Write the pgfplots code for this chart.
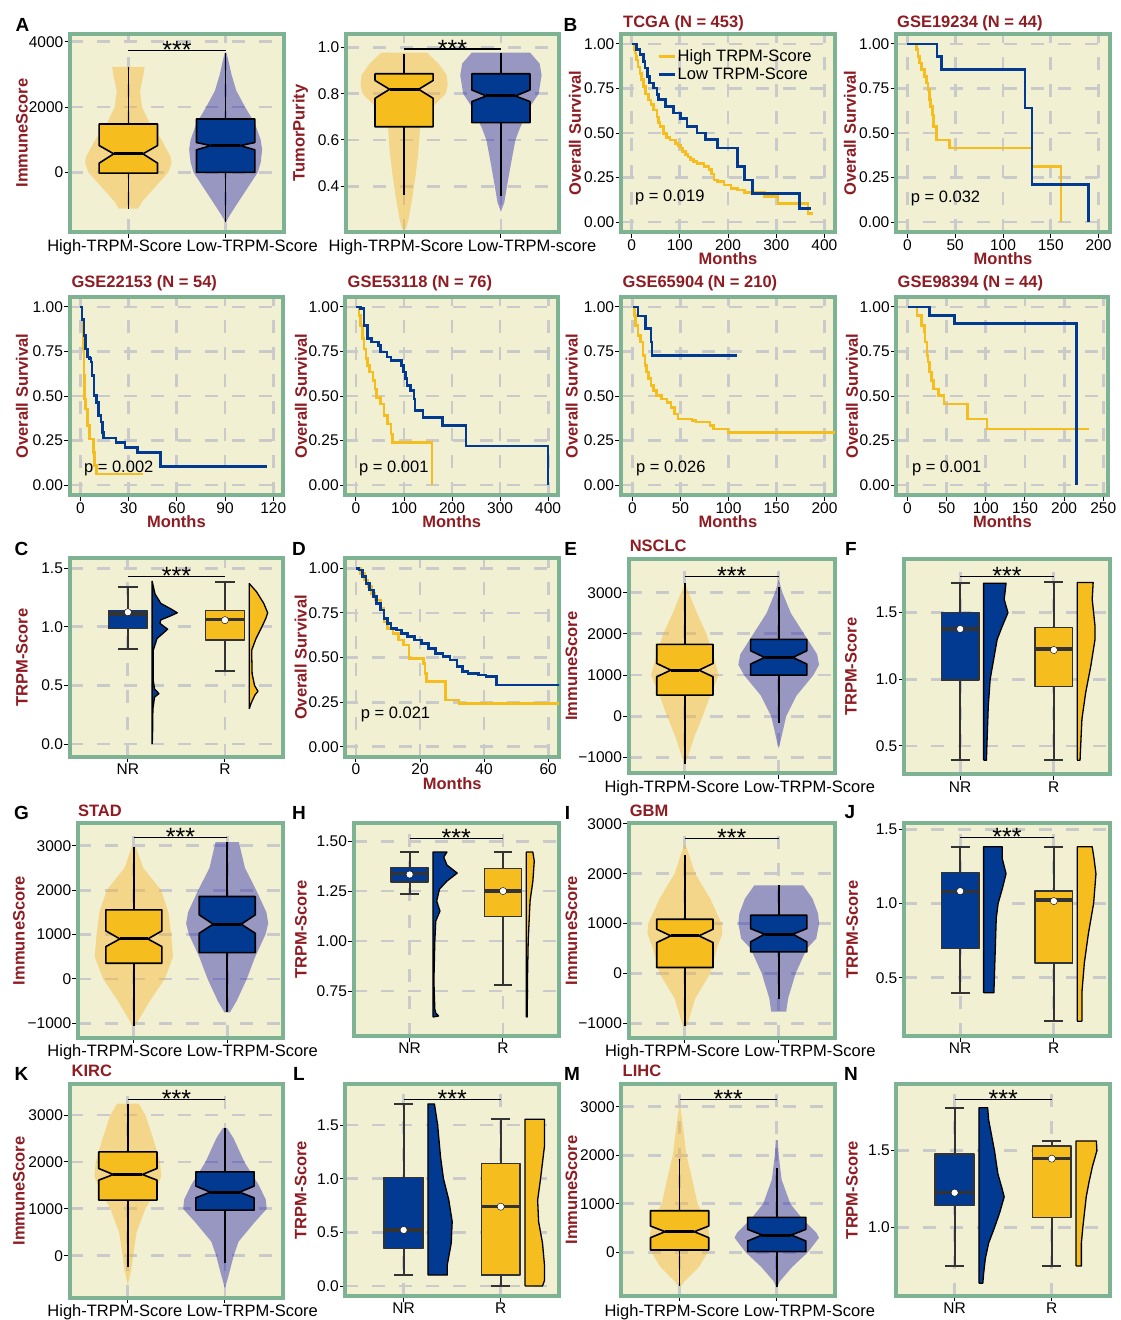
\documentclass[border=0pt]{standalone}
\usepackage{fontspec}
\setmainfont{Liberation Sans}
\usepackage{pgfplots}
\pgfplotsset{compat=1.18}
\usepackage{pgfplotstable}

\definecolor{bgc}{HTML}{F1F0D2}
\definecolor{frm}{HTML}{7DB293}
\definecolor{grd}{HTML}{CACACA}
\definecolor{ylw}{HTML}{F5BE1E}
\definecolor{blu}{HTML}{023A92}
\definecolor{vyl}{HTML}{F6B426}
\definecolor{vbl}{HTML}{1C1CAA}
\definecolor{drd}{HTML}{8E1C22}
\definecolor{dkg}{HTML}{333333}

\newcommand\fs{\fontsize{16.5}{19.8}\selectfont}
\newcommand\ftk{\fontsize{15.5}{18}\selectfont}
\newcommand\fst{\fontsize{25}{25}\selectfont}
\newcommand\fl{\bfseries\fontsize{19}{20}\selectfont}

\pgfplotsset{
 panel/.style={
  scale only axis, anchor=north west,
  axis background/.style={fill=bgc},
  axis line style={draw=frm, line width=4pt},
  grid=major,
  major grid style={draw=grd, line width=2.8pt, dash pattern=on 13pt off 14pt},
  tick align=outside, major tick length=5.5pt,
  major tick style={black, line width=1pt},
  xtick pos=left, ytick pos=left,
  tick label style={font=\ftk, text=black},
  yticklabel style={inner sep=1pt},
  xticklabel style={inner sep=1.5pt},
  label style={font=\bfseries\fs, text=drd},
  /pgf/number format/assume math mode=true,
  /pgf/number format/1000 sep={},
 },
 pos/.style n args={4}{at={(#1pt,-#2pt)}, width=#3pt, height=#4pt},
 ylab/.style 2 args={ylabel={#1}, ylabel style={at={(axis description cs:#2,0.5)}, anchor=center}},
 cat/.style={xmin=0.4, xmax=2.6, xtick={1,2}},
 noxl/.style={xticklabels={{},{}}},
 rc/.style={xticklabels={NR,R}},
 km/.style={ymin=-0.056, ymax=1.056, ytick={0,0.25,0.5,0.75,1}, yticklabels={0.00,0.25,0.50,0.75,1.00}, xlabel={Months}, xlabel style={at={(axis description cs:0.5,0)}, anchor=center, yshift=-26.5pt}},
 kml/.style={const plot, line width=2.6pt},
}

% full violin: centre, table, colour (two mirrored halves)
\newcommand\violin[3]{%
 \addplot[fill=#3, fill opacity=0.42, draw=none, forget plot] table[x expr={#1+\thisrow{w}}, y=y]{#2};
 \addplot[fill=#3, fill opacity=0.42, draw=none, forget plot] table[x expr={#1-\thisrow{w}}, y=y]{#2};
}
% half violin: base, table, colour
\newcommand\hvio[3]{%
 \addplot[fill=#3, draw=black, line width=1.3pt, line join=round, forget plot] table[x expr={#1+\thisrow{w}}, y=y]{#2};
}
% notched box: c q1 nlo med nhi q3 wlo whi colour
\newcommand\nbox[9]{%
 \pgfmathsetmacro\xa{#1-0.3}\pgfmathsetmacro\xb{#1+0.3}%
 \pgfmathsetmacro\xc{#1-0.15}\pgfmathsetmacro\xd{#1+0.15}%
 \edef\tmp{%
  \noexpand\addplot[black, line width=1.6pt, forget plot] coordinates {(#1,#7) (#1,#8)};
  \noexpand\addplot[fill=#9, draw=black, line width=1.6pt, line join=round, forget plot] coordinates {(\xa,#2) (\xb,#2) (\xb,#3) (\xd,#4) (\xb,#5) (\xb,#6) (\xa,#6) (\xa,#5) (\xc,#4) (\xa,#3) (\xa,#2) (\xb,#2)};
  \noexpand\addplot[black, line width=3pt, forget plot] coordinates {(\xc,#4) (\xd,#4)};
 }\tmp}
% raincloud box: c q1 med q3 wlo whi mean colour
\newcommand\rbox[8]{%
 \pgfmathsetmacro\xa{#1-0.2}\pgfmathsetmacro\xb{#1+0.2}%
 \pgfmathsetmacro\xc{#1-0.1}\pgfmathsetmacro\xd{#1+0.1}%
 \edef\tmp{%
  \noexpand\addplot[dkg, line width=2pt, forget plot] coordinates {(#1,#5) (#1,#6)};
  \noexpand\addplot[dkg, line width=2pt, forget plot] coordinates {(\xc,#5) (\xd,#5)};
  \noexpand\addplot[dkg, line width=2pt, forget plot] coordinates {(\xc,#6) (\xd,#6)};
  \noexpand\addplot[fill=#8, draw=dkg, line width=1.6pt, line join=round, forget plot] coordinates {(\xa,#2) (\xb,#2) (\xb,#4) (\xa,#4) (\xa,#2) (\xb,#2)};
  \noexpand\addplot[dkg, line width=3.5pt, forget plot] coordinates {(\xa,#3) (\xb,#3)};
  \noexpand\addplot[only marks, mark=*, mark size=3.6pt, mark options={fill=white, draw=none}, forget plot] coordinates {(#1,#7)};
 }\tmp}
\newcommand\sig[1]{%
 \addplot[black, line width=1.2pt, forget plot] coordinates {(1,#1) (2,#1)};
 \node[anchor=base, inner sep=0pt, font=\fst, yshift=-8pt] at (axis cs:1.5,#1) {***};
}
\newcommand\txt[3]{\node[anchor=base west, inner sep=0pt, font=\fs] at (#1pt,-#2pt) {#3};}
\newcommand\ttl[3]{\node[anchor=base west, inner sep=0pt, font=\bfseries\fs, text=drd] at (#1pt,-#2pt) {#3};}
\newcommand\letter[3]{\node[inner sep=0pt, font=\fl] at (#1pt,-#2pt) {#3};}
\newcommand\xline[3]{\node[anchor=base, inner sep=0pt, font=\fs] at (#1pt,-#2pt) {#3};}

% ---------------- violin tables (y, half width) ----------------
\pgfplotstableread{
y w
-1106 0
-1106 0.10
-900 0.14
-500 0.26
0 0.41
300 0.445
500 0.43
1000 0.34
1500 0.22
2000 0.14
2500 0.12
3000 0.155
3228 0.167
3228 0
}\vAa
\pgfplotstableread{
y w
-1523 0.0
-1300 0.045
-1000 0.11
-500 0.22
0 0.33
300 0.36
700 0.375
1000 0.36
1500 0.30
2000 0.20
2500 0.11
3000 0.06
3664 0.01
3664 0
}\vAb
\pgfplotstableread{
y w
0.215 0
0.215 0.02
0.25 0.043
0.35 0.085
0.45 0.12
0.55 0.148
0.65 0.165
0.70 0.20
0.75 0.31
0.80 0.43
0.84 0.45
0.88 0.44
0.93 0.356
0.978 0.234
0.978 0
}\vBa
\pgfplotstableread{
y w
0.29 0.0
0.33 0.035
0.40 0.063
0.50 0.105
0.60 0.15
0.65 0.195
0.70 0.25
0.75 0.31
0.80 0.39
0.88 0.42
0.93 0.40
0.978 0.30
0.978 0
}\vBb
\pgfplotstableread{
y w
-1152 0.0
-1000 0.03
-500 0.10
0 0.19
500 0.27
1000 0.36
1500 0.30
2000 0.23
2500 0.13
3000 0.04
3244 0.0
}\vEa
\pgfplotstableread{
y w
-787 0.0
-500 0.03
0 0.08
500 0.19
1000 0.37
1250 0.43
1500 0.41
2000 0.27
2500 0.13
3000 0.04
3309 0.0
}\vEb
\pgfplotstableread{
y w
-1051 0
-1051 0.02
-1000 0.03
-500 0.17
0 0.33
500 0.42
1000 0.40
1500 0.37
2000 0.29
2500 0.10
2981 0.02
2981 0
}\vGa
\pgfplotstableread{
y w
-751 0
-751 0.03
-500 0.10
0 0.21
500 0.30
1000 0.41
1250 0.44
1500 0.42
2000 0.31
2500 0.19
3079 0.125
3079 0
}\vGb
\pgfplotstableread{
y w
-1060 0
-1060 0.02
-1000 0.03
-500 0.11
0 0.27
500 0.34
800 0.40
1000 0.39
1500 0.27
2000 0.11
2400 0.04
2600 0.0
}\vIa
\pgfplotstableread{
y w
-767 0
-767 0.08
-500 0.10
0 0.18
500 0.30
700 0.40
1000 0.43
1200 0.42
1500 0.36
1767 0.26
1767 0
}\vIb
\pgfplotstableread{
y w
-625 0.0
-300 0.036
0 0.054
500 0.09
1000 0.18
1400 0.29
1700 0.345
2000 0.33
2500 0.26
3000 0.18
3245 0.11
3245 0
}\vKa
\pgfplotstableread{
y w
-696 0.0
-400 0.04
0 0.09
300 0.14
700 0.30
1000 0.43
1200 0.42
1500 0.35
2000 0.20
2500 0.09
2726 0.02
2726 0
}\vKb
\pgfplotstableread{
y w
-686 0
-686 0.02
-600 0.05
-300 0.20
0 0.29
400 0.305
700 0.26
1000 0.185
1500 0.13
2000 0.07
2500 0.04
3100 0.0
}\vMa
\pgfplotstableread{
y w
-720 0.0
-600 0.03
-300 0.16
0 0.32
300 0.435
400 0.41
700 0.26
1000 0.14
1500 0.05
2000 0.02
2312 0.01
2312 0
}\vMb
% ---------------- half violins (closed polygons) ----------------
\pgfplotstableread{
y w
0.00 0.0
0.05 0.004
0.30 0.008
0.40 0.025
0.43 0.07
0.47 0.025
0.55 0.01
0.80 0.012
0.90 0.05
0.98 0.16
1.03 0.08
1.06 0.09
1.09 0.18
1.12 0.26
1.15 0.20
1.20 0.09
1.28 0.03
1.39 0.0
0.00 0.0
}\hCa
\pgfplotstableread{
y w
0.30 0.0
0.35 0.02
0.42 0.06
0.45 0.09
0.50 0.055
0.60 0.03
0.80 0.025
0.90 0.07
1.00 0.13
1.07 0.17
1.12 0.19
1.20 0.15
1.30 0.075
1.37 0.0
0.30 0.0
}\hCb
\pgfplotstableread{
y w
0.393 0.0
0.393 0.03
0.6 0.04
0.8 0.05
1.0 0.07
1.1 0.095
1.3 0.145
1.4 0.20
1.5 0.26
1.6 0.22
1.722 0.24
1.722 0.0
0.393 0.0
}\hFa
\pgfplotstableread{
y w
0.393 0.0
0.393 0.03
0.55 0.04
0.7 0.05
0.9 0.09
1.1 0.145
1.3 0.19
1.4 0.19
1.6 0.16
1.727 0.17
1.727 0.0
0.393 0.0
}\hFb
\pgfplotstableread{
y w
0.62 0.0
0.625 0.06
0.64 0.03
0.66 0.02
0.8 0.01
1.0 0.02
1.1 0.03
1.15 0.075
1.2 0.04
1.26 0.07
1.30 0.15
1.34 0.26
1.38 0.15
1.42 0.115
1.445 0.15
1.445 0.0
0.62 0.0
}\hHa
\pgfplotstableread{
y w
0.62 0.0
0.62 0.01
0.8 0.012
1.0 0.02
1.1 0.03
1.2 0.04
1.3 0.07
1.4 0.085
1.445 0.07
1.445 0.0
0.62 0.0
}\hHb
\pgfplotstableread{
y w
0.398 0.0
0.398 0.11
0.5 0.115
0.7 0.125
0.9 0.135
1.0 0.155
1.1 0.2
1.2 0.24
1.3 0.2
1.382 0.2
1.382 0.0
0.398 0.0
}\hJa
\pgfplotstableread{
y w
0.207 0.0
0.207 0.05
0.4 0.05
0.6 0.076
0.8 0.12
1.0 0.175
1.2 0.20
1.3 0.18
1.382 0.16
1.382 0.0
0.207 0.0
}\hJb
\pgfplotstableread{
y w
0.102 0.0
0.102 0.2
0.2 0.2
0.4 0.24
0.6 0.25
0.8 0.215
1.0 0.16
1.2 0.13
1.5 0.10
1.696 0.067
1.696 0.0
0.102 0.0
}\hLa
\pgfplotstableread{
y w
0.0 0.0
0.0 0.18
0.05 0.2
0.2 0.2
0.4 0.18
0.6 0.14
0.8 0.13
1.0 0.16
1.3 0.2
1.553 0.2
1.553 0.0
0.0 0.0
}\hLb
\pgfplotstableread{
y w
0.639 0.0
0.639 0.04
0.7 0.048
0.8 0.066
0.9 0.10
1.0 0.16
1.1 0.215
1.2 0.26
1.25 0.24
1.35 0.195
1.5 0.16
1.7 0.10
1.779 0.09
1.779 0.0
0.639 0.0
}\hNa
\pgfplotstableread{
y w
0.751 0.0
0.751 0.055
0.9 0.055
1.0 0.07
1.2 0.105
1.3 0.135
1.4 0.17
1.5 0.215
1.563 0.21
1.563 0.0
0.751 0.0
}\hNb

\begin{document}
\begin{tikzpicture}
\path[use as bounding box] (0pt,0pt) rectangle (1120pt,-1320pt);

% ===================== ROW 1 =====================
\begin{axis}[panel, cat, noxl, pos={70}{34}{214}{198}, ymin=-1825, ymax=4237,
  ytick={0,2000,4000}, ylab={ImmuneScore}{-0.225}]
 \violin{1}{\vAa}{vyl}
 \violin{2}{\vAb}{vbl}
 \nbox{1}{-20}{284}{568}{822}{1482}{-1106}{3228}{ylw}
 \nbox{2}{0}{690}{822}{914}{1634}{-1523}{3664}{blu}
 \sig{3735}
\end{axis}

\begin{axis}[panel, cat, noxl, pos={346}{34}{213}{198}, ymin=0.202, ymax=1.058,
  ytick={0.4,0.6,0.8,1.0}, yticklabels={0.4,0.6,0.8,1.0}, ylab={TumorPurity}{-0.214}]
 \violin{1}{\vBa}{vyl}
 \violin{2}{\vBb}{vbl}
 \nbox{1}{0.657}{0.780}{0.819}{0.857}{0.886}{0.364}{0.971}{ylw}
 \nbox{2}{0.675}{0.766}{0.790}{0.816}{0.886}{0.356}{0.975}{blu}
 \sig{0.993}
\end{axis}

\begin{axis}[panel, km, pos={621}{34}{214}{198}, xmin=-22, xmax=422, xtick={0,100,200,300,400},
  ylab={Overall Survival}{-0.215},
  legend style={at={(axis description cs:0.17,0.93)}, anchor=north west, draw=none, fill=none, font=\fs, inner sep=0pt, row sep=2pt, nodes={inner sep=1.5pt}},
  legend cell align=left,
  legend image code/.code={\draw[#1] (0pt,0pt) -- (16pt,0pt);}]
 \addplot[kml, ylw] coordinates {(0,1) (5,0.97) (7,0.95) (9,0.93) (10.5,0.91) (13,0.87) (17.4,0.835) (20,0.80) (24.4,0.76) (29,0.72) (35,0.685) (40,0.66) (45.3,0.63) (52.3,0.59) (56,0.56) (59,0.535) (66,0.497) (73,0.475) (80,0.46) (90.6,0.44) (96,0.43) (101,0.415) (106,0.395) (111.5,0.378) (117,0.365) (122,0.35) (129,0.34) (136,0.33) (150,0.313) (160.6,0.295) (166,0.27) (171,0.237) (178,0.227) (192,0.208) (206,0.19) (220,0.18) (234,0.165) (276,0.143) (303.8,0.105) (366,0.049) (376,0.049)};
 \addlegendentry{High TRPM-Score}
 \addplot[kml, blu] coordinates {(0,1) (10.5,0.968) (17.4,0.94) (24.4,0.902) (27.9,0.865) (32.8,0.818) (37,0.78) (45.3,0.752) (52.3,0.715) (55.8,0.687) (69.7,0.649) (87.2,0.612) (101,0.583) (115,0.537) (136,0.499) (153,0.462) (178,0.415) (220,0.311) (233.6,0.236) (251,0.161) (348.7,0.077) (373,0.077)};
 \addlegendentry{Low TRPM-Score}
\end{axis}

\begin{axis}[panel, km, pos={896}{34}{214}{198}, xmin=-12, xmax=212, xtick={0,50,100,150,200},
  ylab={Overall Survival}{-0.215}]
 \addplot[kml, ylw] coordinates {(0,1) (9.4,0.968) (11.1,0.93) (12.9,0.893) (14.6,0.856) (18.1,0.818) (19.8,0.78) (21.6,0.743) (23.3,0.687) (24,0.649) (26,0.602) (27.5,0.537) (30.3,0.46) (44.2,0.415) (130.4,0.311) (160.7,0.0)};
 \addplot[kml, blu] coordinates {(0,1) (31,0.93) (35.5,0.856) (123,0.64) (130.4,0.212) (189.6,0.0)};
\end{axis}

% ===================== ROW 2 =====================
\begin{axis}[panel, km, pos={69.6}{297}{213.6}{198}, xmin=-6.7, xmax=126.2, xtick={0,30,60,90,120},
  ylab={Overall Survival}{-0.223}]
 \addplot[kml, ylw] coordinates {(0,1) (1.1,0.93) (1.6,0.86) (1.8,0.765) (2.2,0.615) (2.7,0.484) (3.3,0.428) (4.4,0.334) (5.6,0.259) (8.2,0.184) (8.9,0.109) (10,0.062) (38.9,0.062)};
 \addplot[kml, blu] coordinates {(0,1) (1.1,0.93) (2.2,0.84) (3.3,0.765) (4.4,0.72) (5.6,0.71) (6.7,0.69) (7.3,0.615) (8.4,0.503) (10,0.465) (11.1,0.39) (12.9,0.353) (13.8,0.296) (14.4,0.265) (22.2,0.24) (27.8,0.21) (35.6,0.184) (50,0.105) (116,0.105)};
\end{axis}

\begin{axis}[panel, km, pos={345.4}{297}{212.6}{198}, xmin=-22, xmax=420.6, xtick={0,100,200,300,400},
  ylab={Overall Survival}{-0.209}]
 \addplot[kml, ylw] coordinates {(0,1) (6,0.953) (9.7,0.897) (13.4,0.822) (17,0.765) (20.8,0.709) (24.5,0.672) (28,0.634) (35.7,0.587) (39.4,0.54) (43,0.493) (50.6,0.456) (58,0.39) (65.4,0.343) (72.9,0.287) (76.6,0.24) (158.4,0)};
 \addplot[kml, blu] coordinates {(0,1) (10,0.99) (17,0.897) (24.5,0.822) (32,0.803) (47,0.784) (50.6,0.747) (65,0.72) (73,0.70) (95,0.672) (99,0.634) (102.6,0.597) (106,0.56) (113.8,0.53) (121,0.484) (123,0.418) (139.8,0.38) (180.7,0.334) (229,0.22) (400,0)};
\end{axis}

\begin{axis}[panel, km, pos={620.7}{297}{214.3}{198}, xmin=-12.3, xmax=211, xtick={0,50,100,150,200},
  ylab={Overall Survival}{-0.229}]
 \addplot[kml, ylw] coordinates {(0,1) (1.9,0.953) (3.4,0.897) (5.6,0.84) (8.2,0.803) (10.8,0.728) (13,0.672) (14.5,0.634) (16.8,0.597) (19.4,0.559) (22,0.53) (25,0.503) (30.5,0.484) (36,0.465) (40,0.437) (43.6,0.40) (47.3,0.37) (62,0.362) (66,0.353) (80.8,0.334) (84.5,0.315) (99.4,0.296) (214,0.296)};
 \addplot[kml, blu] coordinates {(0,1) (5.6,0.95) (13.8,0.878) (19.4,0.803) (20.5,0.728) (108.7,0.728)};
\end{axis}

\begin{axis}[panel, km, pos={896.4}{297}{212}{198}, xmin=-14.2, xmax=256.6, xtick={0,50,100,150,200,250},
  ylab={Overall Survival}{-0.21}]
 \addplot[kml, ylw] coordinates {(0,1) (12.3,0.953) (17.8,0.897) (21.5,0.86) (22.4,0.803) (25.1,0.728) (26,0.69) (28.3,0.634) (30.6,0.587) (32.9,0.54) (39.7,0.503) (46.6,0.456) (76.3,0.371) (101.4,0.315) (231.5,0.315)};
 \addplot[kml, blu] coordinates {(0,1) (28.3,0.953) (60.3,0.906) (215.5,0)};
\end{axis}

% ===================== ROW 3 =====================
\begin{axis}[panel, cat, rc, pos={69.6}{558.3}{213.6}{198.4}, ymin=-0.108, ymax=1.585,
  ytick={0,0.5,1,1.5}, yticklabels={0.0,0.5,1.0,1.5}, ylab={TRPM-Score}{-0.223}]
 \hvio{1.25}{\hCa}{blu}
 \hvio{2.25}{\hCb}{ylw}
 \rbox{1}{0.986}{1.11}{1.139}{0.812}{1.338}{1.125}{blu}
 \rbox{2}{0.886}{1.063}{1.139}{0.622}{1.381}{1.057}{ylw}
 \sig{1.432}
\end{axis}

\begin{axis}[panel, km, pos={345.4}{558.3}{213.6}{198.4}, xmin=-3.3, xmax=63.4, xtick={0,20,40,60},
  ylab={Overall Survival}{-0.209}]
 \addplot[kml, ylw] coordinates {(0,1) (1.5,0.972) (2.6,0.935) (3.7,0.897) (4.8,0.86) (5.9,0.822) (7.6,0.776) (8.7,0.70) (9.8,0.664) (11.5,0.636) (13.2,0.598) (14.9,0.57) (16.5,0.495) (21,0.467) (21.6,0.411) (22.1,0.364) (28,0.262) (32.2,0.243) (64,0.243)};
 \addplot[kml, blu] coordinates {(0,1) (0.9,0.99) (2,0.953) (3.1,0.916) (4.2,0.879) (5.4,0.841) (6.5,0.804) (7.6,0.766) (8.7,0.72) (9.8,0.69) (10.9,0.664) (12.6,0.654) (14.3,0.636) (16,0.617) (18.2,0.598) (20.4,0.58) (22.7,0.551) (24.9,0.523) (27.2,0.505) (29.4,0.486) (31.6,0.449) (33.3,0.42) (35,0.411) (38.3,0.402) (40.6,0.393) (43.9,0.346) (64,0.346)};
\end{axis}

\begin{axis}[panel, cat, noxl, pos={628.6}{559.3}{206.4}{214}, ymin=-1389, ymax=3812,
  ytick={-1000,0,1000,2000,3000}, yticklabels={−1000,0,1000,2000,3000}, ylab={ImmuneScore}{-0.277}]
 \violin{1}{\vEa}{vyl}
 \violin{2}{\vEb}{vbl}
 \nbox{1}{511}{957}{1119}{1281}{1744}{-1152}{3244}{ylw}
 \nbox{2}{998}{1265}{1427}{1590}{1865}{-178}{3130}{blu}
 \sig{3390}
\end{axis}

\begin{axis}[panel, cat, rc, pos={904}{559.3}{206}{215}, ymin=0.287, ymax=1.901,
  ytick={0.5,1,1.5}, yticklabels={0.5,1.0,1.5}, ylab={TRPM-Score}{-0.257}]
 \hvio{1.25}{\hFa}{blu}
 \hvio{2.25}{\hFb}{ylw}
 \rbox{1}{0.995}{1.378}{1.501}{0.393}{1.722}{1.378}{blu}
 \rbox{2}{0.945}{1.228}{1.388}{0.393}{1.727}{1.22}{ylw}
 \sig{1.772}
\end{axis}

% ===================== ROW 4 =====================
\begin{axis}[panel, cat, noxl, pos={77.9}{823.3}{205.3}{214.4}, ymin=-1324, ymax=3504,
  ytick={-1000,0,1000,2000,3000}, yticklabels={−1000,0,1000,2000,3000}, ylab={ImmuneScore}{-0.287}]
 \violin{1}{\vGa}{vyl}
 \violin{2}{\vGb}{vbl}
 \nbox{1}{353}{728}{901}{1081}{1555}{-1051}{2981}{ylw}
 \nbox{2}{593}{1029}{1232}{1442}{1855}{-751}{3079}{blu}
 \sig{3184}
\end{axis}

\begin{axis}[panel, cat, rc, pos={353.6}{823.3}{205.4}{212.7}, ymin=0.525, ymax=1.589,
  ytick={0.75,1,1.25,1.5}, yticklabels={0.75,1.00,1.25,1.50}, ylab={TRPM-Score}{-0.256}]
 \hvio{1.25}{\hHa}{blu}
 \hvio{2.25}{\hHb}{ylw}
 \rbox{1}{1.295}{1.337}{1.367}{1.233}{1.445}{1.333}{blu}
 \rbox{2}{1.122}{1.25}{1.362}{0.778}{1.445}{1.25}{ylw}
 \sig{1.512}
\end{axis}

\begin{axis}[panel, cat, noxl, pos={628.6}{823.3}{206.4}{214.4}, ymin=-1288, ymax=3010,
  ytick={-1000,0,1000,2000,3000}, yticklabels={−1000,0,1000,2000,3000}, ylab={ImmuneScore}{-0.277}]
 \violin{1}{\vIa}{vyl}
 \violin{2}{\vIb}{vbl}
 \nbox{1}{120}{620}{754}{887}{1087}{-1060}{2368}{ylw}
 \nbox{2}{433}{634}{787}{900}{1167}{-513}{1767}{blu}
 \sig{2700}
\end{axis}

\begin{axis}[panel, cat, rc, pos={904}{823.3}{206}{212.7}, ymin=0.107, ymax=1.54,
  ytick={0.5,1,1.5}, yticklabels={0.5,1.0,1.5}, ylab={TRPM-Score}{-0.252}]
 \hvio{1.25}{\hJa}{blu}
 \hvio{2.25}{\hJb}{ylw}
 \rbox{1}{0.697}{1.079}{1.209}{0.398}{1.382}{1.083}{blu}
 \rbox{2}{0.6}{1.022}{1.083}{0.207}{1.382}{1.016}{ylw}
 \sig{1.443}
\end{axis}

% ===================== ROW 5 =====================
\begin{axis}[panel, cat, noxl, pos={69.6}{1084.3}{213.6}{213.4}, ymin=-895, ymax=3655,
  ytick={0,1000,2000,3000}, ylab={ImmuneScore}{-0.237}]
 \violin{1}{\vKa}{vyl}
 \violin{2}{\vKb}{vbl}
 \nbox{1}{1186}{1612}{1732}{1860}{2215}{-234}{3245}{ylw}
 \nbox{2}{972}{1235}{1356}{1484}{1789}{-163}{2726}{blu}
 \sig{3330}
\end{axis}

\begin{axis}[panel, cat, rc, pos={345.4}{1084.3}{213.6}{211.7}, ymin=-0.093, ymax=1.879,
  ytick={0,0.5,1,1.5}, yticklabels={0.0,0.5,1.0,1.5}, ylab={TRPM-Score}{-0.209}]
 \hvio{1.25}{\hLa}{blu}
 \hvio{2.25}{\hLb}{ylw}
 \rbox{1}{0.351}{0.522}{1.012}{0.102}{1.696}{0.522}{blu}
 \rbox{2}{0.102}{0.739}{1.143}{0.0}{1.553}{0.739}{ylw}
 \sig{1.739}
\end{axis}

\begin{axis}[panel, cat, noxl, pos={621.4}{1084.3}{213.6}{211.4}, ymin=-894, ymax=3462,
  ytick={0,1000,2000,3000}, ylab={ImmuneScore}{-0.234}]
 \violin{1}{\vMa}{vyl}
 \violin{2}{\vMb}{vbl}
 \nbox{1}{48}{302}{425}{542}{857}{-686}{1914}{ylw}
 \nbox{2}{14}{233}{357}{473}{720}{-720}{1742}{blu}
 \sig{3149}
\end{axis}

\begin{axis}[panel, cat, rc, pos={896.4}{1084.3}{213.6}{211.4}, ymin=0.558, ymax=1.931,
  ytick={1,1.5}, yticklabels={1.0,1.5}, ylab={TRPM-Score}{-0.208}]
 \hvio{1.25}{\hNa}{blu}
 \hvio{2.25}{\hNb}{ylw}
 \rbox{1}{1.143}{1.227}{1.478}{0.751}{1.779}{1.227}{blu}
 \rbox{2}{1.065}{1.45}{1.532}{0.751}{1.563}{1.448}{ylw}
 \sig{1.833}
\end{axis}

% ===================== TEXT =====================
\letter{22.5}{24.7}{A}
\letter{570.5}{24.7}{B}
\letter{21.4}{549}{C}
\letter{299}{549}{D}
\letter{570.7}{549}{E}
\letter{851}{549}{F}
\letter{21.4}{812.5}{G}
\letter{299}{812.5}{H}
\letter{567.5}{812.5}{I}
\letter{850}{812.5}{J}
\letter{21.4}{1074}{K}
\letter{299}{1074}{L}
\letter{572}{1074}{M}
\letter{851}{1074}{N}

\ttl{623}{27.7}{TCGA (N = 453)}
\ttl{897}{27.7}{GSE19234 (N = 44)}
\ttl{71.4}{287.7}{GSE22153 (N = 54)}
\ttl{347.5}{287.7}{GSE53118 (N = 76)}
\ttl{622.5}{287.7}{GSE65904 (N = 210)}
\ttl{897.5}{287.7}{GSE98394 (N = 44)}
\ttl{629.6}{551}{NSCLC}
\ttl{77.9}{816}{STAD}
\ttl{629.6}{816}{GBM}
\ttl{71.4}{1076}{KIRC}
\ttl{622.5}{1076}{LIHC}

\txt{635}{201}{p = 0.019}
\txt{910.7}{202.7}{p = 0.032}
\txt{83.9}{472}{p = 0.002}
\txt{359}{472}{p = 0.001}
\txt{636}{472}{p = 0.026}
\txt{911.8}{472}{p = 0.001}
\txt{360.7}{718.7}{p = 0.021}

\xline{182.5}{251}{High-TRPM-Score Low-TRPM-Score}
\xline{462.5}{251}{High-TRPM-Score Low-TRPM-score}
\xline{739.8}{792.7}{High-TRPM-Score Low-TRPM-Score}
\xline{182.7}{1056}{High-TRPM-Score Low-TRPM-Score}
\xline{740.3}{1056}{High-TRPM-Score Low-TRPM-Score}
\xline{182.7}{1316}{High-TRPM-Score Low-TRPM-Score}
\xline{739.8}{1316}{High-TRPM-Score Low-TRPM-Score}
\end{tikzpicture}
\end{document}
